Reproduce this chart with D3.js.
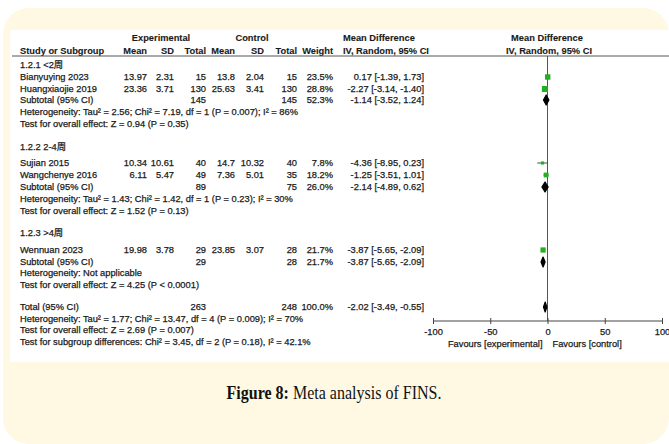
<!DOCTYPE html>
<html>
<head>
<meta charset="utf-8">
<script src="https://cdn.jsdelivr.net/npm/d3@7"></script>
<style>
  html, body { margin: 0; padding: 0; background: #ffffff; }
  svg { display: block; }
  .t { font-family: "Liberation Sans", Arial, "Noto Sans CJK SC", sans-serif; font-size: 9.3px; fill: #1a1a1a; stroke: #1a1a1a; stroke-width: 0.25px; }
  .b { font-weight: bold; stroke-width: 0.1px; }
  .cap { font-family: "Liberation Serif", "DejaVu Serif", serif; font-size: 18.5px; fill: #111; }
</style>
</head>
<body>
<svg id="chart" width="669" height="444"></svg>
<script>
// ---- Study-level data (mean difference, IV random effects) ----
const studies   = ["Bianyuying 2023", "Huangxiaojie 2019", "Sujian 2015", "Wangchenye 2016", "Wennuan 2023"];
const studyGroup = [0, 0, 1, 1, 2];
const expMean   = [13.97, 23.36, 10.34, 6.11, 19.98];
const expSD     = [2.31, 3.71, 10.61, 5.47, 3.78];
const expN      = [15, 130, 40, 49, 29];
const ctlMean   = [13.8, 25.63, 14.7, 7.36, 23.85];
const ctlSD     = [2.04, 3.41, 10.32, 5.01, 3.07];
const ctlN      = [15, 130, 40, 35, 28];
const weights   = [23.5, 28.8, 7.8, 18.2, 21.7];
const md        = [0.17, -2.27, -4.36, -1.25, -3.87];
const ciLow     = [-1.39, -3.14, -8.95, -3.51, -5.65];
const ciHigh    = [1.73, -1.40, 0.23, 1.01, -2.09];

// ---- Subgroups ----
const groupLabels = ["1.2.1 <2周", "1.2.2 2-4周", "1.2.3 >4周"];
const groupExpN   = [145, 89, 29];
const groupCtlN   = [145, 75, 28];
const groupWeight = [52.3, 26.0, 21.7];
const groupMD     = [-1.14, -2.14, -3.87];
const groupLow    = [-3.52, -4.89, -5.65];
const groupHigh   = [1.24, 0.62, -2.09];
const groupHet = [
  "Heterogeneity: Tau² = 2.56; Chi² = 7.19, df = 1 (P = 0.007); I² = 86%",
  "Heterogeneity: Tau² = 1.43; Chi² = 1.42, df = 1 (P = 0.23); I² = 30%",
  "Heterogeneity: Not applicable"
];
const groupTest = [
  "Test for overall effect: Z = 0.94 (P = 0.35)",
  "Test for overall effect: Z = 1.52 (P = 0.13)",
  "Test for overall effect: Z = 4.25 (P < 0.0001)"
];

// ---- Overall ----
const totalExpN = 263, totalCtlN = 248, totalWeight = 100.0;
const totalMD = -2.02, totalLow = -3.49, totalHigh = -0.55;
const totalNotes = [
  "Heterogeneity: Tau² = 1.77; Chi² = 13.47, df = 4 (P = 0.009); I² = 70%",
  "Test for overall effect: Z = 2.69 (P = 0.007)",
  "Test for subgroup differences: Chi² = 3.45, df = 2 (P = 0.18), I² = 42.1%"
];

// ---- Axis ----
const axisTicks = [-100, -50, 0, 50, 100];
const axisDomain = [-100, 100];
const favourLeft = "Favours [experimental]";
const favourRight = "Favours [control]";

// ------------------------------------------------------------------
const loc = d3.formatLocale({decimal: ".", thousands: ",", grouping: [3], currency: ["", ""], minus: "-"});
const f2 = loc.format(".2f");
const f1 = loc.format(".1f");
const ci = (m, l, h) => `${f2(m)} [${f2(l)}, ${f2(h)}]`;

const svg = d3.select("#chart");

// card background and white table panel
svg.append("rect").attr("x", 3).attr("y", 8).attr("width", 666).attr("height", 436)
  .attr("rx", 26).attr("fill", "#fff9e4");
svg.append("rect").attr("x", 10).attr("y", 30).attr("width", 659).attr("height", 332)
  .attr("fill", "#ffffff");

// column anchors (numeric columns are right-aligned)
const col = {study: 20, eMean: 147, eSD: 174, eN: 206, cMean: 235, cSD: 264, cN: 297, wt: 333, ci: 424, ciHead: 343};
const x = d3.scaleLinear().domain(axisDomain).range([433, 662]);

// vertical positions of the rows
const yHead1 = 38, yHead2 = 51, yRule = 56;
const groupY = [
  {head: 65, studies: [77, 89], sub: 100, het: 112, test: 124},
  {head: 147, studies: [163, 175], sub: 187, het: 199, test: 211},
  {head: 233, studies: [250], sub: 262, het: 273, test: 285}
];
const totalY = 307, totalNoteY = [318.5, 330, 341.5];
const axisY = 321, tickLabelY = 332, favourY = 344;

const g = svg.append("g");
function txt(xp, yp, s, anchor = "start", bold = false) {
  return g.append("text").attr("class", "t" + (bold ? " b" : ""))
    .attr("x", xp).attr("y", yp).attr("dy", "0.35em")
    .attr("text-anchor", anchor).text(s);
}

// header
txt(161, yHead1, "Experimental", "middle", true);
txt(252, yHead1, "Control", "middle", true);
txt(col.ciHead, yHead1, "Mean Difference", "start", true);
txt(547, yHead1, "Mean Difference", "middle", true);
txt(col.study, yHead2, "Study or Subgroup", "start", true);
txt(col.eMean, yHead2, "Mean", "end", true);
txt(col.eSD, yHead2, "SD", "end", true);
txt(col.eN, yHead2, "Total", "end", true);
txt(col.cMean, yHead2, "Mean", "end", true);
txt(col.cSD, yHead2, "SD", "end", true);
txt(col.cN, yHead2, "Total", "end", true);
txt(col.wt, yHead2, "Weight", "end", true);
txt(col.ciHead, yHead2, "IV, Random, 95% CI", "start", true);
txt(549, yHead2, "IV, Random, 95% CI", "middle", true);
g.append("line").attr("x1", 12).attr("x2", 669).attr("y1", yRule).attr("y2", yRule)
  .attr("stroke", "#555").attr("stroke-width", 1);

// line of no effect
g.append("line").attr("x1", x(0)).attr("x2", x(0)).attr("y1", yRule).attr("y2", axisY)
  .attr("stroke", "#555").attr("stroke-width", 1);

const sq = d3.scaleSqrt().domain([0, 28.8]).range([0, 6]);
function diamond(yc, m, l, h) {
  const hh = 5;
  g.append("path")
    .attr("d", `M${x(l)},${yc} L${x(m)},${yc - hh} L${x(h)},${yc} L${x(m)},${yc + hh} Z`)
    .attr("fill", "#000").attr("stroke", "#000").attr("stroke-width", 1.2).attr("stroke-linejoin", "round");
}

groupLabels.forEach((lab, gi) => {
  const gy = groupY[gi];
  txt(col.study, gy.head, lab, "start", false);
  const idx = studies.map((s, i) => i).filter(i => studyGroup[i] === gi);
  idx.forEach((i, k) => {
    const yy = gy.studies[k];
    txt(col.study, yy, studies[i]);
    txt(col.eMean, yy, String(expMean[i]), "end");
    txt(col.eSD, yy, String(expSD[i]), "end");
    txt(col.eN, yy, String(expN[i]), "end");
    txt(col.cMean, yy, String(ctlMean[i]), "end");
    txt(col.cSD, yy, String(ctlSD[i]), "end");
    txt(col.cN, yy, String(ctlN[i]), "end");
    txt(col.wt, yy, f1(weights[i]) + "%", "end");
    txt(col.ci, yy, ci(md[i], ciLow[i], ciHigh[i]), "end");
    g.append("line").attr("x1", x(ciLow[i])).attr("x2", x(ciHigh[i])).attr("y1", yy).attr("y2", yy)
      .attr("stroke", "#2d5f2d").attr("stroke-width", 1);
    const s = sq(weights[i]);
    g.append("rect").attr("x", x(md[i]) - s / 2).attr("y", yy - s / 2).attr("width", s).attr("height", s)
      .attr("fill", "#22b022");
  });
  txt(col.study, gy.sub, "Subtotal (95% CI)");
  txt(col.eN, gy.sub, String(groupExpN[gi]), "end");
  txt(col.cN, gy.sub, String(groupCtlN[gi]), "end");
  txt(col.wt, gy.sub, f1(groupWeight[gi]) + "%", "end");
  txt(col.ci, gy.sub, ci(groupMD[gi], groupLow[gi], groupHigh[gi]), "end");
  diamond(gy.sub, groupMD[gi], groupLow[gi], groupHigh[gi]);
  txt(col.study, gy.het, groupHet[gi]);
  txt(col.study, gy.test, groupTest[gi]);
});

// overall effect
txt(col.study, totalY, "Total (95% CI)");
txt(col.eN, totalY, String(totalExpN), "end");
txt(col.cN, totalY, String(totalCtlN), "end");
txt(col.wt, totalY, f1(totalWeight) + "%", "end");
txt(col.ci, totalY, ci(totalMD, totalLow, totalHigh), "end");
diamond(totalY, totalMD, totalLow, totalHigh);
totalNotes.forEach((s, i) => txt(col.study, totalNoteY[i], s));

// axis
const axis = d3.axisBottom(x).tickValues(axisTicks).tickFormat(loc.format("d")).tickSize(3).tickPadding(6);
const ag = svg.append("g").attr("transform", `translate(0,${axisY})`).call(axis);
ag.select(".domain").attr("stroke", "#444").attr("d", `M${x(-100)},0H${x(100)}`);
ag.selectAll(".tick line").attr("stroke", "#444").attr("y1", -3).attr("y2", 3);
ag.selectAll(".tick text").attr("class", "t").attr("y", tickLabelY - axisY).attr("dy", "0.35em");
txt(x(0) - 5, favourY, favourLeft, "end");
txt(x(0) + 5, favourY, favourRight, "start");

// caption, set in a slightly narrowed serif
const capG = svg.append("g");
const cap = capG.append("text").attr("class", "cap").attr("x", 0).attr("y", 0).attr("text-anchor", "middle");
cap.append("tspan").attr("font-weight", "bold").text("Figure 8:");
cap.append("tspan").text(" Meta analysis of FINS.");
const capW = cap.node().getComputedTextLength();
const sx = 215 / capW;
capG.attr("transform", `translate(334,399) scale(${sx},1)`);
</script>
</body>
</html>
